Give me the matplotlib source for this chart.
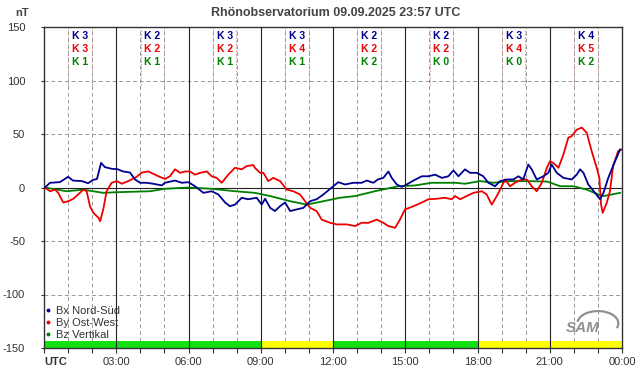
import matplotlib.pyplot as plt
from matplotlib.lines import Line2D
from matplotlib.patches import Arc

plt.rcParams['font.family'] = ['Liberation Sans', 'DejaVu Sans']

# Bx Nord-Sued (hours UTC, nT)
hours_bx = [0.04, 0.25, 0.66, 1.00, 1.20, 1.57, 1.83, 2.03, 2.20, 2.37, 2.53, 2.81, 3.07, 3.28, 3.57,
            3.78, 3.99, 4.26, 4.53, 4.89, 5.02, 5.44, 5.72, 5.99, 6.27, 6.62, 6.96, 7.24, 7.52, 7.72,
            7.93, 8.21, 8.47, 8.83, 9.04, 9.18, 9.39, 9.59, 9.80, 10.01, 10.22, 10.49, 10.77, 11.05,
            11.32, 11.60, 11.95, 12.22, 12.50, 12.84, 13.19, 13.40, 13.68, 13.86, 14.09, 14.30, 14.44,
            14.65, 14.85, 15.06, 15.34, 15.69, 15.96, 16.24, 16.52, 16.79, 17.00, 17.21, 17.48, 17.69,
            17.97, 18.24, 18.45, 18.73, 18.94, 19.22, 19.49, 19.70, 19.90, 20.11, 20.25, 20.46, 20.74,
            20.94, 21.08, 21.29, 21.57, 21.91, 22.12, 22.26, 22.40, 22.60, 22.88, 23.09, 23.23, 23.43,
            23.71, 23.92]
bx = [0, 4.4, 5, 10, 6.5, 6, 4, 7, 8, 23, 19, 17.5, 17, 15, 14,
      7.5, 4.4, 4.4, 3.5, 2, 4.4, 6.5, 4.4, 5, 1.2, -5, -3.5, -6.5, -14, -17.5,
      -16, -9.6, -11, -9.6, -16, -10.5, -19, -22, -17.5, -14, -22, -20.5, -19, -12.8,
      -11, -6.5, 0, 5, 2.8, 4.4, 4.4, 6.5, 4.4, 7.5, 9, 15, 9,
      2.8, 0.6, 2.8, 6.5, 10.5, 10.5, 12, 9, 10.5, 16, 10.5, 17, 13.7,
      13.7, 10.5, 4.4, 1.2, 6, 7.5, 7.5, 10.5, 7.5, 21.5, 17, 7.5, 10.5,
      13.7, 21.5, 13.7, 9, 7.5, 12, 17, 13.7, 2.8, -5, -11, -5, 9,
      24.5, 35.5]

# By Ost-West
hours_by = [0.04, 0.25, 0.46, 0.59, 0.80, 1.01, 1.22, 1.42, 1.63, 1.77, 1.91, 2.05, 2.25, 2.33, 2.46,
            2.60, 2.81, 3.02, 3.23, 3.50, 3.85, 4.06, 4.33, 4.75, 5.02, 5.23, 5.44, 5.65, 5.86, 6.06,
            6.27, 6.48, 6.76, 6.96, 7.17, 7.38, 7.65, 7.93, 8.21, 8.42, 8.69, 8.76, 8.97, 9.11, 9.31,
            9.52, 9.80, 10.08, 10.35, 10.63, 10.84, 11.05, 11.32, 11.53, 11.88, 12.16, 12.57, 12.92,
            13.19, 13.47, 13.82, 14.09, 14.30, 14.58, 14.78, 14.99, 15.34, 15.69, 15.96, 16.31, 16.65,
            16.93, 17.07, 17.28, 17.55, 17.83, 18.18, 18.38, 18.59, 18.80, 19.01, 19.14, 19.35, 19.56,
            19.84, 20.05, 20.25, 20.46, 20.67, 20.88, 21.01, 21.15, 21.36, 21.57, 21.77, 21.91, 22.12,
            22.33, 22.54, 22.74, 22.95, 23.06, 23.13, 23.20, 23.37, 23.50, 23.63, 23.84, 23.98]
by = [0, -3.5, -2, -5, -14, -12.8, -10.5, -6.5, -2, -3.5, -17.5, -23.7, -28, -31.5, -20.5,
      -3.5, 4.4, 6, 3.5, 6, 10, 14, 15, 10.5, 8, 10.5, 17, 13.7, 15, 15,
      12, 13.7, 15, 10.5, 9, 4.4, 12, 18.4, 17, 20, 21, 18.4, 13.7, 13.7, 6,
      9, 6, -2, -3.5, -6.5, -12.8, -19, -22, -30, -33, -34.5, -34.5, -36,
      -33, -33, -30, -33, -36, -37.7, -30, -20.5, -17.5, -14, -11, -10.5, -9.6,
      -11, -8, -11, -8, -5, -3.5, -6.5, -16, -8, 1.2, 7.5, 1.2, 4.4,
      7.5, 7.5, 1.2, -3.5, 4.4, 18.4, 24.5, 23, 18.4, 31, 46.5, 48, 54,
      56, 51, 34, 18.4, 9, -16, -23.7, -14, -3.5, 20, 34, 35.5]

# Bz Vertikal
hours_bz = [0.04, 0.94, 1.63, 2.46, 3.02, 4.40, 5.02, 5.99, 6.96, 7.93, 8.76, 9.39, 10.22, 10.91,
            11.60, 12.29, 12.92, 13.74, 14.71, 15.40, 16.10, 17.07, 17.48, 18.11, 18.65, 19.35, 20.05,
            20.90, 21.43, 21.98, 22.54, 23.02, 23.23, 23.57, 23.92]
bz = [0, -3.5, -2, -5, -4.4, -3.5, -1.2, 0, -1.2, -3.5, -5, -8, -12.8, -16,
      -12.8, -9.6, -8, -3.5, 1.2, 1.9, 4.4, 4.4, 3.5, 6, 4.4, 6, 6,
      5.5, 1.2, 1.2, -2, -6.5, -8, -6.5, -5]

# K indices per 3-hour block
k_bx = [3, 2, 3, 3, 2, 2, 3, 4]
k_by = [3, 2, 2, 4, 2, 2, 4, 5]
k_bz = [1, 1, 1, 1, 2, 0, 0, 2]
block_status = ['#11e011', '#11e011', '#11e011', '#ffff00', '#11e011', '#11e011', '#ffff00', '#ffff00']

tick_labels = ['UTC', '03:00', '06:00', '09:00', '12:00', '15:00', '18:00', '21:00', '00:00']

c_blue = '#000090'
c_red = '#ee0000'
c_green = '#008000'
txt = '#333333'

fig = plt.figure(figsize=(6.42, 3.76), dpi=100)
ax = fig.add_axes([44 / 642, 28 / 376, 578 / 642, 321 / 376])
ax.set_xlim(0, 24)
ax.set_ylim(-150, 150)

# grid
for h in range(1, 24):
    if h % 3 == 0:
        ax.axvline(h, color='#222222', lw=0.8, zorder=3)
    else:
        ax.axvline(h, color='#999999', lw=0.7, ls=(0, (4, 3)), zorder=1)
for v in [100, 50, -50, -100]:
    ax.axhline(v, color='#999999', lw=0.7, ls=(0, (4, 3)), zorder=1)
ax.axhline(0, color='#222222', lw=0.8, zorder=1)

# activity bar
for i, c in enumerate(block_status):
    ax.bar(i * 3, 6.5, width=3, bottom=-150, align='edge', color=c, lw=0, zorder=2)

ax.plot(hours_bz, bz, color=c_green, lw=1.3, zorder=4)
ax.plot(hours_by, by, color=c_red, lw=1.3, zorder=5)
ax.plot(hours_bx, bx, color=c_blue, lw=1.3, zorder=6)

# K labels
for i in range(8):
    xc = i * 3 + 1.5
    for xd in (xc - 0.49, xc + 0.49):
        ax.plot([xd, xd], [147, 96], color='#b89090', lw=0.6, ls=(0, (2, 2)), zorder=2)
    for val, col, yv in ((k_bx[i], c_blue, 141.6), (k_by[i], c_red, 129.4), (k_bz[i], c_green, 117.3)):
        ax.text(xc, yv, f'K {val}', color=col, fontsize=7.5, fontweight='bold',
                ha='center', va='center', zorder=7)

# axes styling
for s in ax.spines.values():
    s.set_color('#333333')
    s.set_linewidth(1.0)
ax.set_yticks([150, 100, 50, 0, -50, -100, -150])
ax.set_yticklabels(['150', '100', '50', '0', '-50', '-100', '-150'])
ax.set_xticks(range(0, 25, 3))
ax.set_xticklabels(tick_labels)
ax.set_xticks(range(0, 25), minor=True)
ax.tick_params(axis='y', length=2.5, pad=11, labelsize=8, colors=txt)
ax.tick_params(axis='x', which='both', length=3.6, width=0.8, pad=3, labelsize=8, colors=txt)
lab0 = ax.get_xticklabels()[0]
lab0.set_ha('left')
lab0.set_fontweight('bold')

# legend
handles = [Line2D([], [], ls='', marker='o', ms=1.8, color=c) for c in (c_blue, c_red, c_green)]
ax.legend(handles, ['Bx Nord-Süd', 'By Ost-West', 'Bz Vertikal'], loc='lower left',
          bbox_to_anchor=(0.002, 0.025), frameon=False, fontsize=8, handlelength=0.5,
          handletextpad=0.45, labelspacing=0.2, borderpad=0, borderaxespad=0,
          labelcolor=txt)

# logo
ax.text(22.35, -131, 'SAM', fontsize=11, fontstyle='italic', fontweight='bold', color='#909090',
        ha='center', va='center', zorder=7)
ax.add_patch(Arc((23.0, -127), 1.7, 23, theta1=-80, theta2=120, color='#909090', lw=1.6, zorder=7))

fig.text(336 / 642, 1 - 13 / 376, 'Rhönobservatorium 09.09.2025 23:57 UTC', ha='center', va='center',
         fontsize=9, fontweight='bold', color='#444444')
fig.text(22 / 642, 1 - 13 / 376, 'nT', ha='center', va='center', fontsize=8, fontweight='bold', color='#444444')

fig.savefig('out.png', dpi=100)
